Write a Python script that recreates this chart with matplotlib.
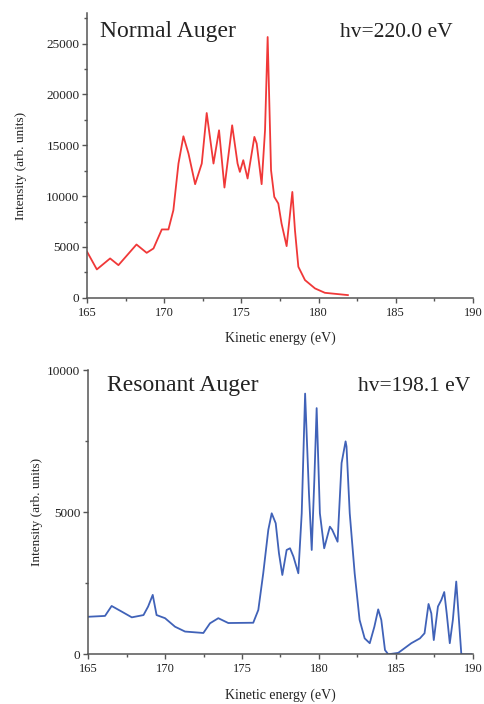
import numpy as np
import matplotlib
matplotlib.use("Agg")
import matplotlib.pyplot as plt
from matplotlib.ticker import MultipleLocator

plt.rcParams['font.family'] = ['Liberation Serif', 'DejaVu Serif']

# normal Auger spectrum (hv = 220.0 eV)
normal_energy = [165.0, 165.63, 166.49, 167.03, 168.2, 168.86, 169.3, 169.84, 170.27, 170.59,
                 170.92, 171.24, 171.57, 172.0, 172.43, 172.75, 173.19, 173.55, 173.9, 174.4,
                 174.75, 174.9, 175.12, 175.4, 175.84, 175.99, 176.31, 176.53, 176.7, 176.92,
                 177.13, 177.39, 177.6, 177.93, 178.3, 178.47, 178.69, 179.12, 179.77, 180.41,
                 181.9]
normal_counts = [4520, 2790, 3870, 3210, 5240, 4420, 4850, 6720, 6720, 8610,
                 13200, 15880, 14180, 11170, 13200, 18170, 13200, 16470, 10840, 16960,
                 13200, 12380, 13530, 11730, 15820, 15170, 11170, 16470, 25640, 12540,
                 9920, 9270, 7310, 5080, 10410, 6650, 3050, 1740, 920, 490,
                 265]

# resonant Auger spectrum (hv = 198.1 eV)
resonant_energy = [165.0, 166.1, 166.53, 167.19, 167.84, 168.6, 168.9, 169.2, 169.45, 170.0,
                   170.65, 171.3, 172.49, 172.92, 173.46, 174.11, 175.73, 176.06, 176.38, 176.71,
                   176.93, 177.19, 177.4, 177.62, 177.9, 178.12, 178.34, 178.66, 178.88, 179.1,
                   179.35, 179.53, 179.7, 179.85, 180.06, 180.34, 180.71, 180.86, 181.21, 181.47,
                   181.73, 181.79, 182.0, 182.32, 182.64, 182.97, 183.3, 183.6, 183.85, 184.05,
                   184.29, 184.5, 185.15, 186.0, 186.56, 186.86, 187.12, 187.3, 187.46, 187.73,
                   187.95, 188.14, 188.3, 188.5, 188.7, 188.92, 189.14, 189.25, 189.9]
resonant_counts = [1320, 1350, 1700, 1500, 1300, 1380, 1680, 2090, 1380, 1270,
                   970, 800, 750, 1090, 1270, 1100, 1110, 1560, 2850, 4380,
                   4960, 4610, 3560, 2790, 3670, 3730, 3440, 2850, 4960, 9170,
                   5670, 3670, 6140, 8660, 4960, 3730, 4490, 4380, 3960, 6730,
                   7490, 7310, 4960, 2850, 1210, 560, 390, 970, 1580, 1210,
                   150, 0, 50, 390, 560, 740, 1770, 1440, 500, 1680,
                   1910, 2190, 1440, 390, 1210, 2560, 860, 0, 0]

x_ticks = [165, 170, 175, 180, 185, 190]
spine_col = '#555555'
text_col = '#222222'

fig = plt.figure(figsize=(4.84, 7.04), dpi=100)
ax1 = fig.add_axes([0.180, 0.577, 0.797, 0.4045])
ax2 = fig.add_axes([0.182, 0.0706, 0.795, 0.4038])

ax1.plot(normal_energy, normal_counts, color='#f03838', lw=1.3)
ax2.plot(resonant_energy, resonant_counts, color='#4062b8', lw=1.3)

panels = [(ax1, 28000, 5000, 'Normal Auger', 'hv=220.0 eV', 0.034, 0.948, 0.916, -0.155, 0.463),
          (ax2, 10000, 5000, 'Resonant Auger', 'hv=198.1 eV', 0.049, 0.992, 0.927, -0.116, 0.5)]

for ax, ymax, ystep, title, hv, tx, hx, ty, lx, ly in panels:
    ax.set_xlim(165, 190)
    ax.set_ylim(0, ymax)
    ax.set_xticks(x_ticks)
    ax.yaxis.set_major_locator(MultipleLocator(ystep))
    ax.xaxis.set_minor_locator(MultipleLocator(2.5))
    ax.yaxis.set_minor_locator(MultipleLocator(ystep / 2))
    for s in ['top', 'right']:
        ax.spines[s].set_visible(False)
    for s in ['left', 'bottom']:
        ax.spines[s].set_color(spine_col)
        ax.spines[s].set_linewidth(1.1)
    ax.tick_params(which='major', direction='out', length=3.5, width=1, color=spine_col,
                   labelcolor=text_col, pad=2)
    ax.tick_params(which='minor', direction='out', length=2.2, width=1, color=spine_col)
    ax.tick_params(axis='x', labelsize=9, pad=3)
    ax.tick_params(axis='y', labelsize=9.5)
    ax.set_xlabel('Kinetic energy (eV)', fontsize=10, color=text_col)
    ax.set_ylabel('Intensity (arb. units)', fontsize=9.5, color=text_col)
    ax.xaxis.set_label_coords(0.5, -0.12, transform=ax.transAxes)
    ax.yaxis.set_label_coords(lx, ly, transform=ax.transAxes)
    ax.text(tx, ty, title, transform=ax.transAxes, fontsize=17, color=text_col,
            ha='left', va='baseline')
    ax.text(hx, ty, hv, transform=ax.transAxes, fontsize=15.5, color=text_col,
            ha='right', va='baseline')

ax1.set_yticks([0, 5000, 10000, 15000, 20000, 25000])

fig.savefig('out.png', dpi=100)
